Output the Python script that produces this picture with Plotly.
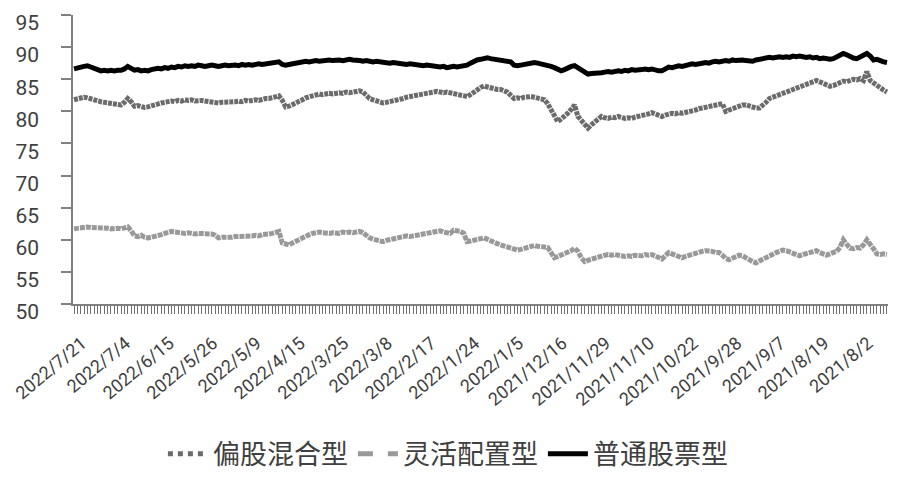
import plotly.graph_objects as go

# Tick labels (every 13th trading day, newest on the left)
XLABELS = ["2022/7/21", "2022/7/4", "2022/6/15", "2022/5/26", "2022/5/9", "2022/4/15",
           "2022/3/25", "2022/3/8", "2022/2/17", "2022/1/24", "2022/1/5", "2021/12/16",
           "2021/11/29", "2021/11/10", "2021/10/22", "2021/9/28", "2021/9/7", "2021/8/19",
           "2021/8/2"]
LABEL_STEP = 13

# 普通股票型
stock = [
    86.6, 86.8, 86.9, 87.0, 87.1, 86.9, 86.6, 86.4, 86.3, 86.4, 86.3, 86.4, 86.3, 86.4,
    86.4, 86.6, 87.0, 86.7, 86.4, 86.5, 86.3, 86.4, 86.3, 86.5, 86.6, 86.7, 86.6,
    86.8, 86.7, 86.9, 86.8, 87.0, 86.9, 87.1, 87.0, 87.1, 87.0, 87.2, 87.1, 87.0,
    87.1, 87.2, 87.1, 87.0, 87.1, 87.2, 87.1, 87.2, 87.2, 87.1, 87.3, 87.2, 87.3, 87.2,
    87.3, 87.4, 87.3, 87.4, 87.4, 87.5, 87.6, 87.7, 87.3, 87.2, 87.3, 87.4, 87.5,
    87.6, 87.7, 87.8, 87.7, 87.8, 87.9, 87.8, 87.9, 87.9, 88.0, 87.9, 88.0, 88.0, 87.9,
    88.0, 88.1, 88.0, 88.0, 87.9, 87.8, 87.9, 87.8, 87.7, 87.8, 87.7, 87.6, 87.6,
    87.5, 87.6, 87.5, 87.4, 87.4, 87.3, 87.4, 87.3, 87.2, 87.2, 87.1, 87.2, 87.1, 87.0,
    87.0, 86.9, 87.0, 86.8, 86.9, 87.0, 86.9, 87.0, 87.1, 87.2, 87.5, 87.8, 88.0,
    88.1, 88.2, 88.35, 88.2, 88.1, 88.0, 88.0, 87.9, 87.8, 87.7, 87.2, 87.1, 87.2,
    87.3, 87.5, 87.6, 87.6, 87.5, 87.4, 87.2, 87.1, 87.0, 86.8, 86.6, 86.3, 86.5, 86.8,
    87.0, 87.1, 86.8, 86.3, 86.0, 85.8, 85.9, 85.9, 86.0, 86.0, 86.1, 86.2, 86.1,
    86.2, 86.3, 86.2, 86.4, 86.3, 86.5, 86.4, 86.4, 86.5, 86.6, 86.5, 86.6, 86.4, 86.3,
    86.3, 86.6, 86.9, 86.8, 87.0, 87.1, 87.0, 87.2, 87.3, 87.4, 87.3, 87.5, 87.5,
    87.6, 87.5, 87.7, 87.8, 87.7, 87.8, 87.9, 87.8, 88.0, 87.9, 88.0, 88.0, 87.9, 87.8,
    87.8, 88.0, 88.1, 88.2, 88.3, 88.4, 88.3, 88.4, 88.5, 88.4, 88.5, 88.4, 88.6,
    88.5, 88.6, 88.5, 88.4, 88.5, 88.3, 88.4, 88.2, 88.3, 88.1, 88.1, 88.2, 88.4, 88.7,
    89.0, 88.8, 88.5, 88.3, 88.2, 88.5, 88.7, 89.0, 88.6, 88.0, 88.1, 87.8, 87.7, 87.6,
]

# 偏股混合型
mixed = [
    81.8, 82.0, 82.1, 82.2, 82.1, 81.9, 81.8, 81.6, 81.5, 81.4, 81.3, 81.2, 81.1, 81.1,
    81.0, 81.4, 82.0, 81.5, 80.8, 80.9, 80.7, 80.6, 80.7, 80.9, 81.0, 81.2, 81.3,
    81.4, 81.5, 81.6, 81.5, 81.7, 81.6, 81.8, 81.7, 81.8, 81.6, 81.7, 81.7, 81.6,
    81.5, 81.4, 81.3, 81.3, 81.4, 81.4, 81.5, 81.4, 81.5, 81.6, 81.5, 81.7, 81.6, 81.7,
    81.8, 81.7, 81.9, 82.0, 82.0, 82.2, 82.3, 82.4, 81.7, 80.7, 80.8, 81.0, 81.2,
    81.5, 81.8, 82.1, 82.3, 82.5, 82.6, 82.7, 82.6, 82.7, 82.8, 82.7, 82.8, 82.9, 82.8,
    83.0, 82.9, 83.0, 83.1, 83.2, 83.0, 82.5, 82.0, 81.8, 81.6, 81.4, 81.3, 81.4,
    81.5, 81.6, 81.8, 81.9, 82.0, 82.2, 82.3, 82.4, 82.6, 82.7, 82.8, 82.9, 83.0, 83.0,
    83.1, 83.0, 82.9, 83.0, 82.9, 82.8, 82.7, 82.6, 82.4, 82.3, 82.6, 83.0, 83.4,
    83.7, 83.95, 83.8, 83.6, 83.5, 83.4, 83.4, 83.2, 83.0, 82.5, 82.0, 82.1, 82.0,
    82.2, 82.3, 82.3, 82.2, 82.1, 81.9, 81.8, 81.2, 80.3, 79.4, 78.4, 78.8, 79.2, 79.7,
    80.3, 81.0, 79.2, 78.5, 77.9, 77.4, 77.9, 78.4, 78.8, 79.2, 79.0, 78.9, 79.1,
    79.0, 79.2, 79.0, 78.9, 79.0, 78.9, 79.1, 79.2, 79.3, 79.5, 79.6, 79.8, 79.6, 79.4,
    79.2, 79.4, 79.6, 79.7, 79.6, 79.8, 79.7, 79.8, 80.0, 80.1, 80.2, 80.4, 80.5,
    80.6, 80.7, 80.8, 81.0, 81.1, 81.2, 80.0, 80.2, 80.5, 80.7, 80.9, 81.0, 81.0, 80.8,
    80.6, 80.5, 80.5, 80.9, 81.4, 82.0, 82.2, 82.5, 82.6, 82.8, 83.0, 83.3, 83.5,
    83.8, 84.0, 84.1, 84.3, 84.5, 84.6, 84.8, 84.6, 84.3, 84.1, 83.9, 84.0, 84.2, 84.5,
    84.7, 84.6, 84.8, 85.0, 84.9, 85.1, 84.8, 86.2, 84.8, 84.4, 83.9, 83.6, 83.3, 83.0,
]

# 灵活配置型
flexible = [
    61.7, 61.8, 61.9, 62.0, 62.0, 61.9, 61.9, 61.8, 61.8, 61.9, 61.8, 61.7, 61.8, 61.8,
    61.7, 61.8, 62.0, 61.4, 60.6, 60.5, 60.7, 60.4, 60.3, 60.4, 60.5, 60.6, 60.8,
    61.0, 61.2, 61.3, 61.2, 61.1, 61.0, 61.0, 61.1, 61.0, 60.9, 61.0, 61.0, 61.0,
    60.9, 60.9, 60.7, 60.3, 60.4, 60.4, 60.3, 60.4, 60.5, 60.5, 60.6, 60.5, 60.6, 60.6,
    60.7, 60.6, 60.8, 60.8, 60.9, 61.0, 61.1, 61.3, 59.5, 59.3, 59.2, 59.5, 59.8,
    60.0, 60.3, 60.6, 60.8, 61.0, 61.1, 61.2, 61.1, 61.0, 61.0, 61.1, 61.1, 61.0, 61.2,
    61.1, 61.2, 61.1, 61.2, 61.3, 61.1, 60.6, 60.3, 60.1, 60.0, 59.8, 59.7, 59.9,
    60.0, 60.1, 60.2, 60.3, 60.4, 60.6, 60.5, 60.6, 60.7, 60.8, 60.9, 61.0, 61.0, 61.1,
    61.2, 61.4, 61.2, 61.1, 61.0, 61.5, 61.4, 61.3, 61.0, 59.7, 59.8, 59.9, 60.1,
    60.2, 60.3, 60.1, 59.8, 59.6, 59.4, 59.2, 59.0, 58.8, 58.6, 58.5, 58.4, 58.5,
    58.7, 58.9, 59.1, 59.1, 59.0, 58.9, 58.8, 58.8, 58.0, 57.2, 57.4, 57.6, 57.8, 57.9,
    58.3, 58.7, 58.2, 57.2, 56.6, 56.8, 57.0, 57.2, 57.4, 57.5, 57.6, 57.7, 57.6,
    57.7, 57.6, 57.5, 57.4, 57.5, 57.4, 57.6, 57.6, 57.5, 57.7, 57.6, 57.7, 57.5, 57.2,
    57.0, 57.5, 58.0, 57.8, 57.6, 57.4, 57.2, 57.4, 57.6, 57.8, 57.9, 58.0, 58.2,
    58.3, 58.3, 58.2, 58.0, 58.0, 57.6, 57.1, 56.9, 57.2, 57.5, 57.6, 57.5, 57.3, 56.9,
    56.6, 56.4, 56.7, 57.0, 57.3, 57.5, 57.8, 58.0, 58.2, 58.4, 58.3, 58.1, 57.8,
    57.6, 57.5, 57.7, 57.9, 58.1, 58.2, 58.3, 58.0, 57.8, 57.6, 57.8, 58.0, 58.2, 58.8,
    60.0, 59.3, 58.7, 58.6, 58.8, 58.7, 59.2, 60.0, 59.4, 58.6, 57.8, 57.7, 57.8, 57.7,
]

SERIES_NAMES = ["偏股混合型", "灵活配置型", "普通股票型"]

n = len(stock)
xs = list(range(n))
tickvals = xs
ticktext = [XLABELS[i // LABEL_STEP] if (i % LABEL_STEP == 0 and i // LABEL_STEP < len(XLABELS)) else ""
            for i in xs]

CJK = "Noto Sans CJK SC, Noto Sans, sans-serif"
NUM = "Roboto, Noto Sans, sans-serif"

fig = go.Figure()
# data lines (textured dashes that read nearly solid, like the reference)
fig.add_trace(go.Scatter(x=xs, y=mixed, mode="lines", showlegend=False,
                         line=dict(color="#6b6b6b", width=5, dash="4px,1px")))
fig.add_trace(go.Scatter(x=xs, y=flexible, mode="lines", showlegend=False,
                         line=dict(color="#999999", width=5, dash="5px,1px")))
fig.add_trace(go.Scatter(x=xs, y=stock, mode="lines", showlegend=False,
                         line=dict(color="#000000", width=5)))
# legend entries
fig.add_trace(go.Scatter(x=[None], y=[None], mode="lines", name=SERIES_NAMES[0],
                         line=dict(color="#6b6b6b", width=5, dash="dot")))
fig.add_trace(go.Scatter(x=[None], y=[None], mode="lines", name=SERIES_NAMES[1],
                         line=dict(color="#999999", width=5, dash="dash")))
fig.add_trace(go.Scatter(x=[None], y=[None], mode="lines", name=SERIES_NAMES[2],
                         line=dict(color="#000000", width=5)))

fig.update_layout(
    width=892, height=472,
    margin=dict(l=65, r=12, t=7, b=176, autoexpand=False),
    paper_bgcolor="white", plot_bgcolor="white",
    showlegend=True,
    legend=dict(orientation="h", x=0.46, xanchor="center", y=-0.52, yanchor="middle",
                font=dict(family=CJK, size=27, color="#404040"),
                itemwidth=40, tracegroupgap=0),
    xaxis=dict(
        range=[-0.3, n - 0.7], automargin=False, ticklabeloverflow="allow",
        tickmode="array", tickvals=tickvals, ticktext=ticktext,
        tickangle=-40, ticks="outside", ticklen=8, tickwidth=1, tickcolor="#707070",
        showline=True, linecolor="#808080", linewidth=1.5,
        showgrid=False, zeroline=False, ticklabelstandoff=12, ticklabelshift=8,
        tickfont=dict(family=NUM, size=18, color="#404040"),
    ),
    yaxis=dict(
        range=[50, 95], automargin=False, ticklabeloverflow="allow",
        tickmode="array", tickvals=[50, 55, 60, 65, 70, 75, 80, 85, 90, 95],
        ticks="outside", ticklen=10, tickwidth=1.5, tickcolor="#808080",
        showline=True, linecolor="#808080", linewidth=1.5,
        showgrid=False, zeroline=False, ticklabelstandoff=18, ticklabelshift=8,
        tickfont=dict(family=NUM, size=21, color="#404040"),
    ),
)

fig.write_html("out.html")
